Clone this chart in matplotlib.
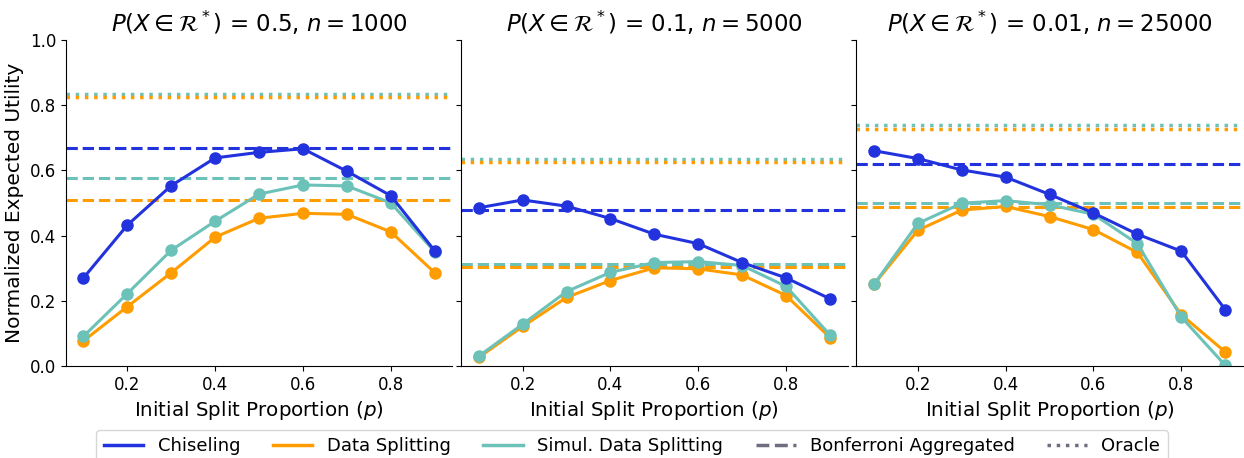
import matplotlib
matplotlib.use("Agg")
import matplotlib.pyplot as plt
from matplotlib.lines import Line2D

# split proportions
p = [0.1, 0.2, 0.3, 0.4, 0.5, 0.6, 0.7, 0.8, 0.9]

titles = [r"$P(X \in \mathcal{R}^*)$ = 0.5, $n = 1000$",
          r"$P(X \in \mathcal{R}^*)$ = 0.1, $n = 5000$",
          r"$P(X \in \mathcal{R}^*)$ = 0.01, $n = 25000$"]

# curves, one list per panel
chis = [[0.270, 0.432, 0.553, 0.638, 0.655, 0.666, 0.597, 0.522, 0.353],
        [0.485, 0.509, 0.490, 0.452, 0.404, 0.375, 0.317, 0.270, 0.206],
        [0.660, 0.636, 0.601, 0.579, 0.526, 0.469, 0.404, 0.352, 0.173]]
ds = [[0.077, 0.182, 0.286, 0.395, 0.453, 0.468, 0.465, 0.411, 0.286],
      [0.026, 0.121, 0.210, 0.262, 0.301, 0.298, 0.279, 0.216, 0.087],
      [0.250, 0.416, 0.478, 0.489, 0.458, 0.418, 0.348, 0.157, 0.043]]
sds = [[0.091, 0.222, 0.355, 0.444, 0.527, 0.555, 0.552, 0.500, 0.350],
       [0.030, 0.128, 0.228, 0.287, 0.317, 0.320, 0.308, 0.244, 0.095],
       [0.250, 0.437, 0.499, 0.507, 0.494, 0.465, 0.375, 0.150, 0.002]]

# bonferroni aggregated levels: chiseling, data splitting, simul
bonf_chis = [0.667, 0.478, 0.619]
bonf_ds = [0.510, 0.302, 0.487]
bonf_sds = [0.576, 0.314, 0.500]

# oracle levels
oracle_ds = [0.826, 0.626, 0.727]
oracle_sds = [0.835, 0.634, 0.738]

c_chis = '#2233dd'
c_ds = '#ff9c00'
c_sds = '#6cc2b8'
c_grey = '#6e6e80'

fig, axes = plt.subplots(1, 3, figsize=(12.44, 4.58), dpi=100, sharey=True)
fig.subplots_adjust(left=0.053, right=0.999, top=0.913, bottom=0.201, wspace=0.023)

for i, ax in enumerate(axes):
    ax.axhline(oracle_sds[i], color=c_sds, ls=':', lw=2.5)
    ax.axhline(oracle_ds[i], color=c_ds, ls=':', lw=2.5)
    ax.axhline(bonf_chis[i], color=c_chis, ls='--', lw=2.2)
    ax.axhline(bonf_sds[i], color=c_sds, ls='--', lw=2.2)
    ax.axhline(bonf_ds[i], color=c_ds, ls='--', lw=2.2)

    ax.plot(p, ds[i], color=c_ds, lw=2.2, marker='o', ms=8)
    ax.plot(p, sds[i], color=c_sds, lw=2.2, marker='o', ms=8)
    ax.plot(p, chis[i], color=c_chis, lw=2.2, marker='o', ms=8)

    ax.set_title(titles[i], fontsize=16.5)
    ax.set_xlabel('Initial Split Proportion ($p$)', fontsize=14.3)
    ax.set_ylim(0, 1.0)
    ax.set_xticks([0.2, 0.4, 0.6, 0.8])
    ax.tick_params(labelsize=12)
    ax.spines['top'].set_visible(False)
    ax.spines['right'].set_visible(False)

axes[0].set_ylabel('Normalized Expected Utility', fontsize=14.5)

handles = [Line2D([], [], color=c_chis, lw=2.5),
           Line2D([], [], color=c_ds, lw=2.5),
           Line2D([], [], color=c_sds, lw=2.5),
           Line2D([], [], color=c_grey, lw=2.5, ls='--'),
           Line2D([], [], color=c_grey, lw=2.5, ls=':')]
labels = ['Chiseling', 'Data Splitting', 'Simul. Data Splitting',
          'Bonferroni Aggregated', 'Oracle']
fig.legend(handles, labels, loc='lower center', ncol=5, fontsize=13,
           bbox_to_anchor=(0.508, -0.03), columnspacing=1.8, handlelength=2.2)

fig.savefig('out.png')
